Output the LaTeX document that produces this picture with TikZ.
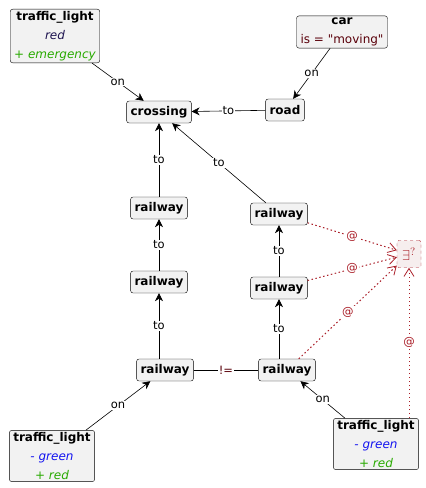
\documentclass[tikz,border=0pt]{standalone}
\usepackage{fontspec}
\setmainfont{DejaVu Sans}
\usetikzlibrary{arrows.meta}
\definecolor{boxgray}{RGB}{242,242,242}
\definecolor{attrdark}{RGB}{30,20,80}
\definecolor{minusblue}{RGB}{20,20,240}
\definecolor{plusgreen}{RGB}{40,170,0}
\definecolor{valred}{RGB}{90,0,10}
\definecolor{atred}{RGB}{170,30,40}
\definecolor{exfill}{RGB}{246,238,238}
\newcommand{\attrtxt}[2]{{\normalfont\itshape\color{#1}#2}}
\tikzset{
	cls/.style={draw, fill=boxgray, rounded corners=2.5pt, inner xsep=4pt, inner ysep=2pt,
		minimum height=22pt, align=center, font=\fontsize{12}{19}\selectfont\bfseries},
	link/.style={line width=.6pt, -{Stealth[length=8pt,width=8pt,inset=2.5pt]}},
	atlink/.style={color=atred, line width=1pt, dash pattern=on 1.5pt off 2.5pt,
		-{Straight Barb[length=8pt,width=10pt,line width=.8pt]}},
	lbl/.style={fill=white, inner sep=1pt, font=\fontsize{11.5}{13}\selectfont},
	atlbl/.style={lbl, text=atred}
}
\begin{document}
\begin{tikzpicture}[x=1pt,y=-1pt]
	\useasboundingbox (0,0) rectangle (426,488);

	\node[cls] (tla) at (55,36) {traffic\_light\\ \attrtxt{attrdark}{red}\\ \attrtxt{plusgreen}{+ emergency}};
	\node[cls] (car) at (342,32) {car\\ {\normalfont\color{valred}is = \textquotedbl moving\textquotedbl}};
	\node[cls] (cross) at (159,112) {crossing};
	\node[cls] (road) at (285,110) {road};

	\node[cls] (rla) at (159,208) {railway};
	\node[cls] (rlb) at (159,282) {railway};
	\node[cls] (rlc) at (165,370) {railway};
	\node[cls] (rrd) at (279,214) {railway};
	\node[cls] (rre) at (279,288) {railway};
	\node[cls] (rrf) at (287,370) {railway};

	\node[draw=atred, fill=exfill, dashed, rounded corners=2pt, minimum width=24pt, minimum height=27pt,
		inner sep=1pt, text=atred, font=\fontsize{15}{16}\selectfont] (ex) at (409,254) {$\exists^{?}$};

	\node[cls] (tlb) at (52,456) {traffic\_light\\ \attrtxt{minusblue}{- green}\\ \attrtxt{plusgreen}{+ red}};
	\node[cls] (tlc) at (376,444) {traffic\_light\\ \attrtxt{minusblue}{- green}\\ \attrtxt{plusgreen}{+ red}};
	\coordinate (tlctop) at (tlc.north -| ex);

	\draw[link] (tla) -- node[lbl] {on} (cross);
	\draw[link] (car) -- node[lbl] {on} (road);
	\draw[link] (road) -- node[lbl] {to} (cross);
	\draw[link] (rla) -- node[lbl] {to} (cross);
	\draw[link] (rrd) -- node[lbl] {to} (cross);
	\draw[link] (rlb) -- node[lbl] {to} (rla);
	\draw[link] (rlc.north -| rlb) -- node[lbl] {to} (rlb);
	\draw[link] (rre) -- node[lbl] {to} (rrd);
	\draw[link] (rrf.north -| rre) -- node[lbl] {to} (rre);
	\draw[line width=.6pt] (rlc) -- node[lbl, text=valred] {!=} (rrf);
	\draw[link] (tlb) -- node[lbl] {on} (rlc);
	\draw[link] (tlc) -- node[lbl] {on} (rrf);

	\draw[atlink] (rrd) -- node[atlbl] {@} (ex);
	\draw[atlink] (rre) -- node[atlbl] {@} (ex);
	\draw[atlink] (rrf) -- node[atlbl] {@} (ex);
	\draw[atlink] (tlctop) -- node[atlbl] {@} (ex);
\end{tikzpicture}
\end{document}
